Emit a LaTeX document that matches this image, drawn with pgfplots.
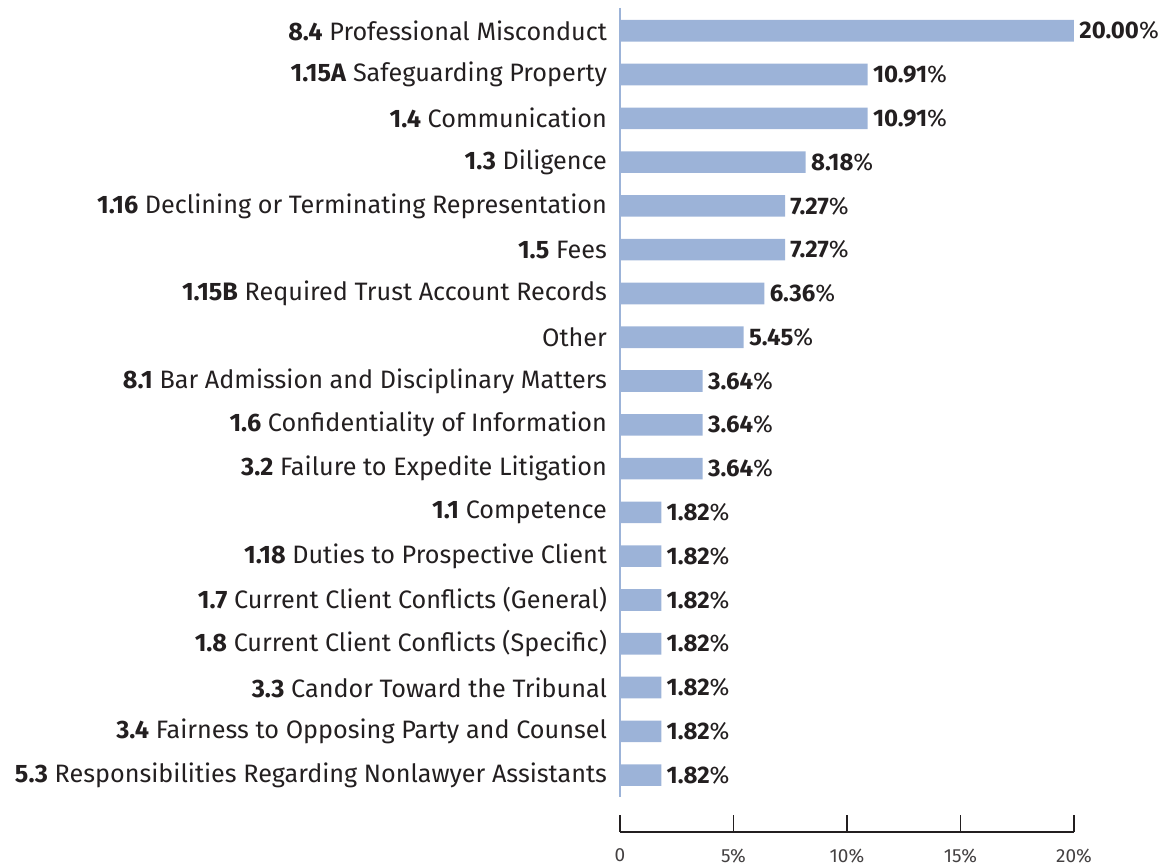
\documentclass[border=0pt]{standalone}
\usepackage{fontspec}
\setmainfont{Fira Sans}
\usepackage{pgfplots}
\pgfplotsset{compat=1.18}
\definecolor{barblue}{HTML}{9CB3D8}
\definecolor{txt}{HTML}{231F20}

\begin{document}
\begin{tikzpicture}
\useasboundingbox (-310pt,-34pt) rectangle (273pt,398.5pt);
\begin{axis}[
  at={(0pt,0pt)},anchor=south west,
  scale only axis,width=227pt,height=394.5pt,
  xbar,bar width=10.8pt,
  xmin=0,xmax=20,
  ymin=-0.52,ymax=17.5,y dir=reverse,
  hide x axis,
  axis y line*=left,
  y axis line style={draw=barblue,line width=0.9pt,-},
  ytick={0,...,17},major tick length=0pt,
  yticklabels={
    \textbf{8.4} Professional Misconduct,
    \textbf{1.15A} Safeguarding Property,
    \textbf{1.4} Communication,
    \textbf{1.3} Diligence,
    \textbf{1.16} Declining or Terminating Representation,
    \textbf{1.5} Fees,
    \textbf{1.15B} Required Trust Account Records,
    Other,
    \textbf{8.1} Bar Admission and Disciplinary Matters,
    \textbf{1.6} Confidentiality of Information,
    \textbf{3.2} Failure to Expedite Litigation,
    \textbf{1.1} Competence,
    \textbf{1.18} Duties to Prospective Client,
    \textbf{1.7} Current Client Conflicts (General),
    \textbf{1.8} Current Client Conflicts (Specific),
    \textbf{3.3} Candor Toward the Tribunal,
    \textbf{3.4} Fairness to Opposing Party and Counsel,
    \textbf{5.3} Responsibilities Regarding Nonlawyer Assistants},
  yticklabel style={font=\fontsize{12.6}{14}\selectfont,text=txt,xshift=-3pt},
  point meta=x,
  nodes near coords={\textbf{\pgfmathprintnumber[fixed,fixed zerofill,precision=2,assume math mode=true]{\pgfplotspointmeta}}\%},
  nodes near coords style={font=\fontsize{12}{14}\selectfont,text=txt,anchor=west,inner sep=2.5pt},
  clip=false,
]
\addplot[fill=barblue,draw=none] coordinates {
  (20.00,0) (10.91,1) (10.91,2) (8.18,3) (7.27,4) (7.27,5) (6.36,6) (5.45,7)
  (3.64,8) (3.64,9) (3.64,10) (1.82,11) (1.82,12) (1.82,13) (1.82,14)
  (1.82,15) (1.82,16) (1.82,17)};
\end{axis}
\begin{axis}[
  at={(0pt,-17.5pt)},anchor=south west,
  scale only axis,width=227pt,height=10pt,
  xmin=0,xmax=20,ymin=0,ymax=1,
  hide y axis,
  axis x line*=bottom,
  x axis line style={draw=txt,line width=0.6pt,-},
  xtick={0,5,10,15,20},
  xticklabels={0,5\%,10\%,15\%,20\%},
  tick align=inside,major tick length=8.5pt,
  xtick style={draw=txt,line width=0.6pt},
  xticklabel style={font=\fontsize{9.5}{11}\selectfont,text=txt!85,yshift=-5pt},
]
\end{axis}
\end{tikzpicture}
\end{document}
